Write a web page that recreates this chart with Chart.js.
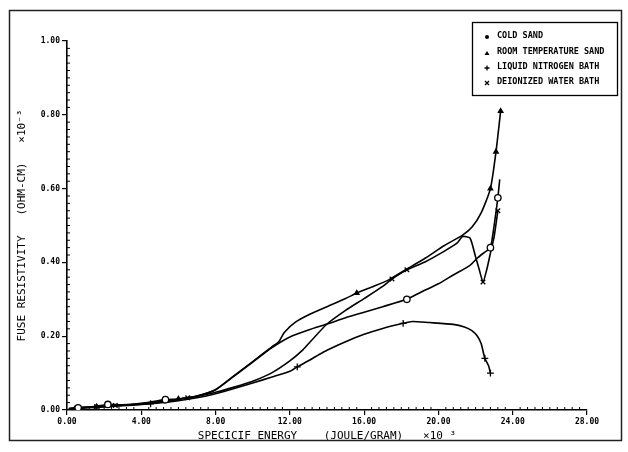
<!DOCTYPE html>
<html>
<head>
<meta charset="utf-8">
<script src="https://cdn.jsdelivr.net/npm/chart.js@4/dist/chart.umd.min.js"></script>
<style>
  body { margin: 0; background: #fff; }
</style>
</head>
<body>
<canvas id="myChart" width="628" height="452"></canvas>
<script>
// specific energy (x1e3 J/g) and fuse resistivity (x1e-3 ohm-cm)
const coldX = [0.1, 0.6, 1.2, 2.2, 3.0, 4.0, 5.3, 6.0, 7.0, 8.0, 9.0, 10.0, 11.0, 12.0, 13.0, 14.0, 15.0, 16.0, 17.0, 18.3, 19.0, 20.0, 20.8, 21.7, 22.1, 22.5, 22.8, 23.0, 23.2, 23.3];
const coldY = [0.004, 0.006, 0.008, 0.015, 0.014, 0.018, 0.028, 0.030, 0.038, 0.055, 0.092, 0.130, 0.168, 0.198, 0.217, 0.233, 0.250, 0.265, 0.280, 0.300, 0.318, 0.342, 0.366, 0.392, 0.412, 0.428, 0.440, 0.500, 0.575, 0.625];
const coldMarks = [1, 3, 6, 19, 26, 28];

const roomX = [0.1, 0.8, 1.6, 3.0, 4.0, 5.0, 6.0, 7.0, 8.0, 9.0, 10.0, 11.0, 11.4, 11.7, 12.3, 13.1, 14.0, 15.0, 15.6, 16.5, 17.3, 18.3, 19.3, 20.3, 21.3, 21.8, 22.3, 22.8, 23.1, 23.35];
const roomY = [0.004, 0.007, 0.009, 0.013, 0.017, 0.022, 0.030, 0.038, 0.055, 0.093, 0.131, 0.170, 0.185, 0.210, 0.238, 0.260, 0.280, 0.302, 0.317, 0.335, 0.352, 0.382, 0.412, 0.445, 0.474, 0.495, 0.534, 0.600, 0.700, 0.810];
const roomMarks = [2, 6, 18, 27, 28, 29];

const nitroX = [0.1, 0.8, 1.5, 2.5, 3.5, 4.5, 5.5, 6.5, 7.5, 8.0, 9.0, 10.0, 11.0, 12.0, 12.4, 13.1, 13.6, 14.0, 15.0, 16.0, 17.0, 18.1, 18.6, 19.5, 20.8, 21.4, 21.8, 22.1, 22.3, 22.5, 22.7, 22.8];
const nitroY = [0.003, 0.005, 0.007, 0.010, 0.013, 0.017, 0.022, 0.029, 0.038, 0.044, 0.058, 0.073, 0.089, 0.105, 0.117, 0.136, 0.151, 0.162, 0.185, 0.205, 0.221, 0.235, 0.240, 0.237, 0.232, 0.225, 0.215, 0.200, 0.180, 0.140, 0.120, 0.100];
const nitroMarks = [2, 5, 14, 21, 29, 31];

const waterX = [0.1, 0.5, 1.0, 2.0, 2.6, 4.0, 5.0, 6.5, 7.0, 8.0, 9.0, 10.0, 11.0, 12.0, 12.7, 13.1, 14.0, 15.0, 16.0, 17.0, 17.5, 18.3, 19.3, 20.3, 21.0, 21.3, 21.7, 22.0, 22.2, 22.4, 22.6, 22.8, 23.0, 23.2];
const waterY = [0.003, 0.005, 0.007, 0.010, 0.012, 0.016, 0.021, 0.033, 0.037, 0.048, 0.062, 0.078, 0.100, 0.133, 0.163, 0.185, 0.233, 0.270, 0.302, 0.335, 0.355, 0.380, 0.402, 0.430, 0.452, 0.470, 0.466, 0.415, 0.380, 0.347, 0.380, 0.425, 0.470, 0.540];
const waterMarks = [1, 4, 7, 20, 21, 29, 33];

const seriesNames = ['COLD SAND', 'ROOM TEMPERATURE SAND', 'LIQUID NITROGEN BATH', 'DEIONIZED WATER BATH'];
const xTitle = 'SPECICIF ENERGY    (JOULE/GRAM)   \u00d710 \u00b3';
const yTitle = 'FUSE RESISTIVITY   (OHM-CM)   \u00d710\u207b\u00b3';

const monoBold = { family: 'DejaVu Sans Mono', size: 8, weight: 'bold' };
const monoTitle = { family: 'DejaVu Sans Mono', size: 11 };

function pts(xs, ys) {
  return xs.map(function (x, i) { return { x: x, y: ys[i] }; });
}

function makeSet(label, xs, ys, marks, style, fill, size) {
  return {
    label: label,
    data: pts(xs, ys),
    borderColor: '#000',
    borderWidth: 1.6,
    tension: 0.2,
    fill: false,
    pointStyle: style,
    pointBorderColor: '#000',
    pointBackgroundColor: fill,
    pointBorderWidth: 1.3,
    pointRadius: function (ctx) { return marks.indexOf(ctx.dataIndex) >= 0 ? size : 0; }
  };
}

// minor ticks, frame and legend box drawn by hand
const extras = {
  id: 'extras',
  afterDraw: function (chart) {
    var c = chart.ctx, xs = chart.scales.x, ys = chart.scales.y, a = chart.chartArea;
    c.save();
    c.strokeStyle = '#000';
    c.lineWidth = 1;
    for (var i = 1; i < 70; i++) {
      if (i % 10 === 0) continue;
      var px = xs.getPixelForValue(i * 0.4);
      c.beginPath(); c.moveTo(px, a.bottom); c.lineTo(px, a.bottom - 3); c.stroke();
    }
    for (var j = 1; j < 50; j++) {
      if (j % 10 === 0) continue;
      var py = ys.getPixelForValue(j * 0.02);
      c.beginPath(); c.moveTo(a.left, py); c.lineTo(a.left + 3, py); c.stroke();
    }
    // outer frame
    c.strokeStyle = '#222';
    c.lineWidth = 1.5;
    c.strokeRect(9.5, 10.5, 612, 430);
    // legend
    c.lineWidth = 1.3;
    c.strokeStyle = '#000';
    c.strokeRect(472.5, 22.5, 145, 73);
    var rows = [36, 52, 67, 82];
    c.font = 'bold 8.5px "DejaVu Sans Mono"';
    c.fillStyle = '#000';
    c.textBaseline = 'middle';
    for (var k = 0; k < 4; k++) {
      var y = rows[k] + 1, x = 487;
      c.beginPath();
      if (k === 0) { c.arc(x, y, 2, 0, Math.PI * 2); c.fill(); }
      if (k === 1) { c.moveTo(x - 2.5, y + 2); c.lineTo(x + 2.5, y + 2); c.lineTo(x, y - 2); c.closePath(); c.fill(); }
      if (k === 2) { c.moveTo(x - 2.5, y); c.lineTo(x + 2.5, y); c.moveTo(x, y - 2.5); c.lineTo(x, y + 2.5); c.stroke(); }
      if (k === 3) { c.moveTo(x - 2, y - 2); c.lineTo(x + 2, y + 2); c.moveTo(x + 2, y - 2); c.lineTo(x - 2, y + 2); c.stroke(); }
      c.fillText(seriesNames[k], 497, rows[k]);
    }
    c.restore();
  }
};

var config = {
  type: 'line',
  data: {
    datasets: [
      makeSet(seriesNames[0], coldX, coldY, coldMarks, 'circle', '#fff', 3.2),
      makeSet(seriesNames[1], roomX, roomY, roomMarks, 'triangle', '#000', 2.6),
      makeSet(seriesNames[2], nitroX, nitroY, nitroMarks, 'cross', '#000', 3.4),
      makeSet(seriesNames[3], waterX, waterY, waterMarks, 'crossRot', '#000', 3.2)
    ]
  },
  options: {
    responsive: false,
    animation: false,
    layout: { padding: { left: 16, top: 41, right: 41, bottom: 9 } },
    plugins: { legend: { display: false }, tooltip: { enabled: false } },
    scales: {
      x: {
        type: 'linear', min: 0, max: 28,
        ticks: { stepSize: 4, color: '#000', font: monoBold, maxRotation: 0, padding: 2,
                 callback: function (v) { return v.toFixed(2); } },
        grid: { drawOnChartArea: false, color: '#000', tickLength: 5, lineWidth: 1.2 },
        border: { color: '#000', width: 1.6 },
        title: { display: true, text: xTitle, color: '#000', font: monoTitle, padding: 0 },
        afterFit: function (s) { s.height = 33; }
      },
      y: {
        type: 'linear', min: 0, max: 1,
        ticks: { stepSize: 0.2, color: '#000', font: monoBold, padding: 2,
                 callback: function (v) { return v.toFixed(2); } },
        grid: { drawOnChartArea: false, color: '#000', tickLength: 5, lineWidth: 1.2 },
        border: { color: '#000', width: 1.6 },
        title: { display: true, text: yTitle, color: '#000', font: monoTitle, padding: 0 },
        afterFit: function (s) { s.width = 51; }
      }
    }
  },
  plugins: [extras]
};

var myChart = new Chart(document.getElementById('myChart'), config);
</script>
</body>
</html>
